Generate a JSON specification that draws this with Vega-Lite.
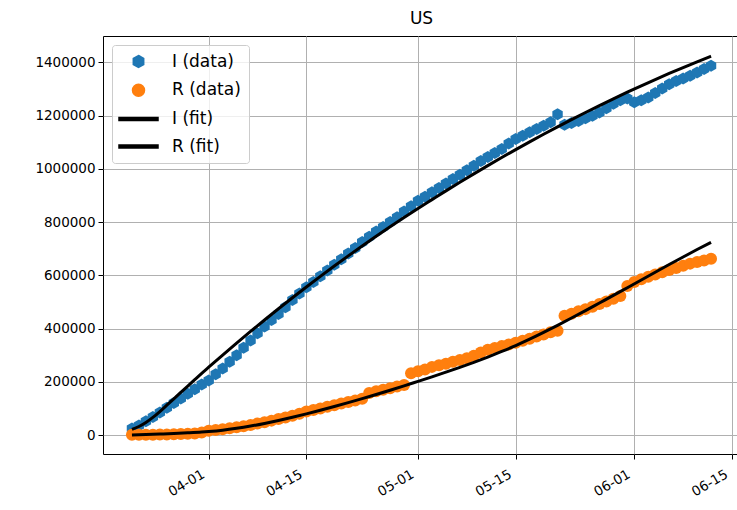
{
  "$schema": "https://vega.github.io/schema/vega-lite/v6.json",
  "width": 637,
  "height": 418,
  "autosize": {"type": "none"},
  "padding": {"left": 103, "top": 36, "right": 0, "bottom": 56},
  "background": "white",
  "title": {"text": "US", "fontSize": 17, "font": "DejaVu Sans", "fontWeight": "normal", "color": "black", "anchor": "middle", "offset": 8},
  "config": {
    "view": {"stroke": "black", "strokeWidth": 1},
    "axis": {"labelFont": "DejaVu Sans", "labelColor": "black", "labelFontSize": 13.5, "tickColor": "black", "tickWidth": 1, "tickSize": 5, "gridColor": "#b0b0b0", "gridWidth": 1, "gridOpacity": 1, "domain": false, "title": null},
    "legend": {"orient": "top-left", "offset": 9, "padding": 8, "fillColor": "rgba(255,255,255,0.8)", "strokeColor": "#cccccc", "cornerRadius": 3, "labelFont": "DejaVu Sans", "labelFontSize": 17, "labelColor": "black", "labelOffset": 25, "rowPadding": 9.7, "symbolSize": 144, "symbolOffset": 10}
  },
  "datasets": {
    "pts": [
      {"date":"2020-03-21","series":"I (data)","value":24000},{"date":"2020-03-22","series":"I (data)","value":36000},{"date":"2020-03-23","series":"I (data)","value":52000},{"date":"2020-03-24","series":"I (data)","value":68000},{"date":"2020-03-25","series":"I (data)","value":85000},{"date":"2020-03-26","series":"I (data)","value":102000},{"date":"2020-03-27","series":"I (data)","value":120000},{"date":"2020-03-28","series":"I (data)","value":137000},{"date":"2020-03-29","series":"I (data)","value":155000},{"date":"2020-03-30","series":"I (data)","value":172000},{"date":"2020-03-31","series":"I (data)","value":190000},
      {"date":"2020-04-01","series":"I (data)","value":205000},{"date":"2020-04-02","series":"I (data)","value":228000},{"date":"2020-04-03","series":"I (data)","value":250000},{"date":"2020-04-04","series":"I (data)","value":275000},{"date":"2020-04-05","series":"I (data)","value":300000},{"date":"2020-04-06","series":"I (data)","value":328000},{"date":"2020-04-07","series":"I (data)","value":355000},{"date":"2020-04-08","series":"I (data)","value":382000},{"date":"2020-04-09","series":"I (data)","value":408000},{"date":"2020-04-10","series":"I (data)","value":432000},{"date":"2020-04-11","series":"I (data)","value":455000},{"date":"2020-04-12","series":"I (data)","value":480000},{"date":"2020-04-13","series":"I (data)","value":507000},{"date":"2020-04-14","series":"I (data)","value":532000},{"date":"2020-04-15","series":"I (data)","value":555000},{"date":"2020-04-16","series":"I (data)","value":575000},{"date":"2020-04-17","series":"I (data)","value":597000},{"date":"2020-04-18","series":"I (data)","value":618000},{"date":"2020-04-19","series":"I (data)","value":640000},{"date":"2020-04-20","series":"I (data)","value":660000},{"date":"2020-04-21","series":"I (data)","value":682000},{"date":"2020-04-22","series":"I (data)","value":703000},{"date":"2020-04-23","series":"I (data)","value":725000},{"date":"2020-04-24","series":"I (data)","value":745000},{"date":"2020-04-25","series":"I (data)","value":765000},{"date":"2020-04-26","series":"I (data)","value":782000},{"date":"2020-04-27","series":"I (data)","value":800000},{"date":"2020-04-28","series":"I (data)","value":818000},{"date":"2020-04-29","series":"I (data)","value":840000},{"date":"2020-04-30","series":"I (data)","value":860000},
      {"date":"2020-05-01","series":"I (data)","value":880000},{"date":"2020-05-02","series":"I (data)","value":895000},{"date":"2020-05-03","series":"I (data)","value":912000},{"date":"2020-05-04","series":"I (data)","value":928000},{"date":"2020-05-05","series":"I (data)","value":945000},{"date":"2020-05-06","series":"I (data)","value":962000},{"date":"2020-05-07","series":"I (data)","value":978000},{"date":"2020-05-08","series":"I (data)","value":995000},{"date":"2020-05-09","series":"I (data)","value":1012000},{"date":"2020-05-10","series":"I (data)","value":1030000},{"date":"2020-05-11","series":"I (data)","value":1045000},{"date":"2020-05-12","series":"I (data)","value":1060000},{"date":"2020-05-13","series":"I (data)","value":1075000},{"date":"2020-05-14","series":"I (data)","value":1095000},{"date":"2020-05-15","series":"I (data)","value":1112000},{"date":"2020-05-16","series":"I (data)","value":1125000},{"date":"2020-05-17","series":"I (data)","value":1138000},{"date":"2020-05-18","series":"I (data)","value":1150000},{"date":"2020-05-19","series":"I (data)","value":1162000},{"date":"2020-05-20","series":"I (data)","value":1175000},{"date":"2020-05-21","series":"I (data)","value":1205000},{"date":"2020-05-22","series":"I (data)","value":1166000},{"date":"2020-05-23","series":"I (data)","value":1172000},{"date":"2020-05-24","series":"I (data)","value":1180000},{"date":"2020-05-25","series":"I (data)","value":1190000},{"date":"2020-05-26","series":"I (data)","value":1200000},{"date":"2020-05-27","series":"I (data)","value":1212000},{"date":"2020-05-28","series":"I (data)","value":1228000},{"date":"2020-05-29","series":"I (data)","value":1245000},{"date":"2020-05-30","series":"I (data)","value":1258000},{"date":"2020-05-31","series":"I (data)","value":1265000},
      {"date":"2020-06-01","series":"I (data)","value":1250000},{"date":"2020-06-02","series":"I (data)","value":1258000},{"date":"2020-06-03","series":"I (data)","value":1268000},{"date":"2020-06-04","series":"I (data)","value":1285000},{"date":"2020-06-05","series":"I (data)","value":1302000},{"date":"2020-06-06","series":"I (data)","value":1318000},{"date":"2020-06-07","series":"I (data)","value":1330000},{"date":"2020-06-08","series":"I (data)","value":1340000},{"date":"2020-06-09","series":"I (data)","value":1350000},{"date":"2020-06-10","series":"I (data)","value":1362000},{"date":"2020-06-11","series":"I (data)","value":1375000},{"date":"2020-06-12","series":"I (data)","value":1388000},
      {"date":"2020-03-21","series":"R (data)","value":500},{"date":"2020-03-22","series":"R (data)","value":600},{"date":"2020-03-23","series":"R (data)","value":800},{"date":"2020-03-24","series":"R (data)","value":1000},{"date":"2020-03-25","series":"R (data)","value":1500},{"date":"2020-03-26","series":"R (data)","value":2000},{"date":"2020-03-27","series":"R (data)","value":2500},{"date":"2020-03-28","series":"R (data)","value":3500},{"date":"2020-03-29","series":"R (data)","value":4500},{"date":"2020-03-30","series":"R (data)","value":6000},{"date":"2020-03-31","series":"R (data)","value":9000},
      {"date":"2020-04-01","series":"R (data)","value":16000},{"date":"2020-04-02","series":"R (data)","value":19000},{"date":"2020-04-03","series":"R (data)","value":22000},{"date":"2020-04-04","series":"R (data)","value":25000},{"date":"2020-04-05","series":"R (data)","value":29000},{"date":"2020-04-06","series":"R (data)","value":33000},{"date":"2020-04-07","series":"R (data)","value":38000},{"date":"2020-04-08","series":"R (data)","value":43000},{"date":"2020-04-09","series":"R (data)","value":48000},{"date":"2020-04-10","series":"R (data)","value":54000},{"date":"2020-04-11","series":"R (data)","value":60000},{"date":"2020-04-12","series":"R (data)","value":66000},{"date":"2020-04-13","series":"R (data)","value":72000},{"date":"2020-04-14","series":"R (data)","value":80000},{"date":"2020-04-15","series":"R (data)","value":88000},{"date":"2020-04-16","series":"R (data)","value":94000},{"date":"2020-04-17","series":"R (data)","value":100000},{"date":"2020-04-18","series":"R (data)","value":106000},{"date":"2020-04-19","series":"R (data)","value":112000},{"date":"2020-04-20","series":"R (data)","value":118000},{"date":"2020-04-21","series":"R (data)","value":124000},{"date":"2020-04-22","series":"R (data)","value":130000},{"date":"2020-04-23","series":"R (data)","value":136000},{"date":"2020-04-24","series":"R (data)","value":158000},{"date":"2020-04-25","series":"R (data)","value":164000},{"date":"2020-04-26","series":"R (data)","value":170000},{"date":"2020-04-27","series":"R (data)","value":176000},{"date":"2020-04-28","series":"R (data)","value":182000},{"date":"2020-04-29","series":"R (data)","value":188000},{"date":"2020-04-30","series":"R (data)","value":232000},
      {"date":"2020-05-01","series":"R (data)","value":240000},{"date":"2020-05-02","series":"R (data)","value":246000},{"date":"2020-05-03","series":"R (data)","value":256000},{"date":"2020-05-04","series":"R (data)","value":262000},{"date":"2020-05-05","series":"R (data)","value":268000},{"date":"2020-05-06","series":"R (data)","value":275000},{"date":"2020-05-07","series":"R (data)","value":282000},{"date":"2020-05-08","series":"R (data)","value":288000},{"date":"2020-05-09","series":"R (data)","value":298000},{"date":"2020-05-10","series":"R (data)","value":310000},{"date":"2020-05-11","series":"R (data)","value":320000},{"date":"2020-05-12","series":"R (data)","value":327000},{"date":"2020-05-13","series":"R (data)","value":334000},{"date":"2020-05-14","series":"R (data)","value":340000},{"date":"2020-05-15","series":"R (data)","value":347000},{"date":"2020-05-16","series":"R (data)","value":354000},{"date":"2020-05-17","series":"R (data)","value":362000},{"date":"2020-05-18","series":"R (data)","value":370000},{"date":"2020-05-19","series":"R (data)","value":378000},{"date":"2020-05-20","series":"R (data)","value":386000},{"date":"2020-05-21","series":"R (data)","value":392000},{"date":"2020-05-22","series":"R (data)","value":448000},{"date":"2020-05-23","series":"R (data)","value":456000},{"date":"2020-05-24","series":"R (data)","value":465000},{"date":"2020-05-25","series":"R (data)","value":473000},{"date":"2020-05-26","series":"R (data)","value":482000},{"date":"2020-05-27","series":"R (data)","value":492000},{"date":"2020-05-28","series":"R (data)","value":502000},{"date":"2020-05-29","series":"R (data)","value":512000},{"date":"2020-05-30","series":"R (data)","value":522000},{"date":"2020-05-31","series":"R (data)","value":560000},
      {"date":"2020-06-01","series":"R (data)","value":575000},{"date":"2020-06-02","series":"R (data)","value":585000},{"date":"2020-06-03","series":"R (data)","value":595000},{"date":"2020-06-04","series":"R (data)","value":603000},{"date":"2020-06-05","series":"R (data)","value":612000},{"date":"2020-06-06","series":"R (data)","value":620000},{"date":"2020-06-07","series":"R (data)","value":628000},{"date":"2020-06-08","series":"R (data)","value":636000},{"date":"2020-06-09","series":"R (data)","value":644000},{"date":"2020-06-10","series":"R (data)","value":650000},{"date":"2020-06-11","series":"R (data)","value":656000},{"date":"2020-06-12","series":"R (data)","value":662000}
    ],
    "fit": [
      {"date":"2020-03-21","series":"I (fit)","value":21000},{"date":"2020-03-22","series":"I (fit)","value":32000},{"date":"2020-03-23","series":"I (fit)","value":47000},{"date":"2020-03-24","series":"I (fit)","value":66000},{"date":"2020-03-25","series":"I (fit)","value":88000},{"date":"2020-03-26","series":"I (fit)","value":112000},{"date":"2020-03-27","series":"I (fit)","value":136000},{"date":"2020-03-28","series":"I (fit)","value":160000},{"date":"2020-03-29","series":"I (fit)","value":184000},{"date":"2020-03-30","series":"I (fit)","value":208000},{"date":"2020-03-31","series":"I (fit)","value":232000},
      {"date":"2020-04-01","series":"I (fit)","value":255000},{"date":"2020-04-03","series":"I (fit)","value":300500},{"date":"2020-04-05","series":"I (fit)","value":345200},{"date":"2020-04-07","series":"I (fit)","value":389100},{"date":"2020-04-09","series":"I (fit)","value":432100},{"date":"2020-04-11","series":"I (fit)","value":474300},{"date":"2020-04-13","series":"I (fit)","value":515700},{"date":"2020-04-15","series":"I (fit)","value":556300},{"date":"2020-04-17","series":"I (fit)","value":596100},{"date":"2020-04-19","series":"I (fit)","value":635100},{"date":"2020-04-21","series":"I (fit)","value":673200},{"date":"2020-04-23","series":"I (fit)","value":710500},{"date":"2020-04-25","series":"I (fit)","value":747000},{"date":"2020-04-27","series":"I (fit)","value":782700},{"date":"2020-04-29","series":"I (fit)","value":817500},
      {"date":"2020-05-01","series":"I (fit)","value":851500},{"date":"2020-05-03","series":"I (fit)","value":884500},{"date":"2020-05-05","series":"I (fit)","value":917400},{"date":"2020-05-07","series":"I (fit)","value":949700},{"date":"2020-05-09","series":"I (fit)","value":981300},{"date":"2020-05-11","series":"I (fit)","value":1012300},{"date":"2020-05-13","series":"I (fit)","value":1042700},{"date":"2020-05-15","series":"I (fit)","value":1072500},{"date":"2020-05-17","series":"I (fit)","value":1101600},{"date":"2020-05-19","series":"I (fit)","value":1130100},{"date":"2020-05-21","series":"I (fit)","value":1158000},{"date":"2020-05-23","series":"I (fit)","value":1185300},{"date":"2020-05-25","series":"I (fit)","value":1211900},{"date":"2020-05-27","series":"I (fit)","value":1237900},{"date":"2020-05-29","series":"I (fit)","value":1263300},{"date":"2020-05-31","series":"I (fit)","value":1288100},
      {"date":"2020-06-02","series":"I (fit)","value":1312200},{"date":"2020-06-04","series":"I (fit)","value":1335700},{"date":"2020-06-06","series":"I (fit)","value":1358600},{"date":"2020-06-08","series":"I (fit)","value":1380900},{"date":"2020-06-10","series":"I (fit)","value":1402500},{"date":"2020-06-12","series":"I (fit)","value":1423500},
      {"date":"2020-03-21","series":"R (fit)","value":0},{"date":"2020-03-23","series":"R (fit)","value":1500},{"date":"2020-03-25","series":"R (fit)","value":3500},{"date":"2020-03-27","series":"R (fit)","value":5500},{"date":"2020-03-29","series":"R (fit)","value":8000},{"date":"2020-03-31","series":"R (fit)","value":11000},
      {"date":"2020-04-01","series":"R (fit)","value":13000},{"date":"2020-04-03","series":"R (fit)","value":18000},{"date":"2020-04-05","series":"R (fit)","value":25000},{"date":"2020-04-07","series":"R (fit)","value":33500},{"date":"2020-04-09","series":"R (fit)","value":43500},{"date":"2020-04-11","series":"R (fit)","value":54500},{"date":"2020-04-13","series":"R (fit)","value":66500},{"date":"2020-04-15","series":"R (fit)","value":79500},{"date":"2020-04-17","series":"R (fit)","value":93000},{"date":"2020-04-19","series":"R (fit)","value":107000},{"date":"2020-04-21","series":"R (fit)","value":121500},{"date":"2020-04-23","series":"R (fit)","value":136500},{"date":"2020-04-25","series":"R (fit)","value":152000},{"date":"2020-04-27","series":"R (fit)","value":168000},{"date":"2020-04-29","series":"R (fit)","value":184500},
      {"date":"2020-05-01","series":"R (fit)","value":201500},{"date":"2020-05-03","series":"R (fit)","value":218500},{"date":"2020-05-05","series":"R (fit)","value":236000},{"date":"2020-05-07","series":"R (fit)","value":254000},{"date":"2020-05-09","series":"R (fit)","value":273000},{"date":"2020-05-11","series":"R (fit)","value":293000},{"date":"2020-05-13","series":"R (fit)","value":314000},{"date":"2020-05-15","series":"R (fit)","value":336000},{"date":"2020-05-17","series":"R (fit)","value":360000},{"date":"2020-05-19","series":"R (fit)","value":385500},{"date":"2020-05-21","series":"R (fit)","value":412000},{"date":"2020-05-23","series":"R (fit)","value":439500},{"date":"2020-05-25","series":"R (fit)","value":467500},{"date":"2020-05-27","series":"R (fit)","value":496000},{"date":"2020-05-29","series":"R (fit)","value":524500},{"date":"2020-05-31","series":"R (fit)","value":553500},
      {"date":"2020-06-02","series":"R (fit)","value":582500},{"date":"2020-06-04","series":"R (fit)","value":611500},{"date":"2020-06-06","series":"R (fit)","value":640500},{"date":"2020-06-08","series":"R (fit)","value":669000},{"date":"2020-06-10","series":"R (fit)","value":697000},{"date":"2020-06-12","series":"R (fit)","value":724000}
    ]
  },
  "encoding": {
    "x": {
      "field": "date", "type": "temporal",
      "scale": {"type": "utc", "nice": false, "domain": [{"year": 2020, "month": 3, "date": 16, "hours": 20, "minutes": 24, "utc": true}, {"year": 2020, "month": 6, "date": 16, "hours": 3, "minutes": 36, "utc": true}]},
      "axis": {
        "values": [{"year": 2020, "month": 4, "date": 1, "utc": true}, {"year": 2020, "month": 4, "date": 15, "utc": true}, {"year": 2020, "month": 5, "date": 1, "utc": true}, {"year": 2020, "month": 5, "date": 15, "utc": true}, {"year": 2020, "month": 6, "date": 1, "utc": true}, {"year": 2020, "month": 6, "date": 15, "utc": true}],
        "format": "%m-%d", "labelAngle": -30, "labelAlign": "right", "labelBaseline": "top", "labelPadding": 8, "labelOffset": -9, "labelFlush": false, "labelOverlap": false
      }
    },
    "y": {
      "field": "value", "type": "quantitative",
      "scale": {"domain": [-71400, 1499400], "nice": false, "zero": false},
      "axis": {"values": [0, 200000, 400000, 600000, 800000, 1000000, 1200000, 1400000], "format": "d", "labelPadding": 3}
    },
    "color": {
      "field": "series", "type": "nominal",
      "scale": {"domain": ["I (data)", "R (data)", "I (fit)", "R (fit)"], "range": ["#1f77b4", "#ff7f0e", "#000000", "#000000"]},
      "legend": {"title": null}
    }
  },
  "layer": [
    {
      "data": {"name": "pts"},
      "mark": {"type": "point", "filled": true, "opacity": 1, "size": 144, "strokeWidth": 0},
      "encoding": {
        "shape": {
          "field": "series", "type": "nominal",
          "scale": {"domain": ["I (data)", "R (data)", "I (fit)", "R (fit)"], "range": ["M0,-1L0.866,-0.5L0.866,0.5L0,1L-0.866,0.5L-0.866,-0.5Z", "circle", "M-3.25,-0.25L3.25,-0.25L3.25,0.25L-3.25,0.25Z", "M-3.25,-0.25L3.25,-0.25L3.25,0.25L-3.25,0.25Z"]},
          "legend": {"title": null}
        }
      }
    },
    {
      "data": {"name": "fit"},
      "mark": {"type": "line", "strokeWidth": 3, "interpolate": "monotone"},
      "encoding": {
        "detail": {"field": "series", "type": "nominal"}
      }
    }
  ]
}
